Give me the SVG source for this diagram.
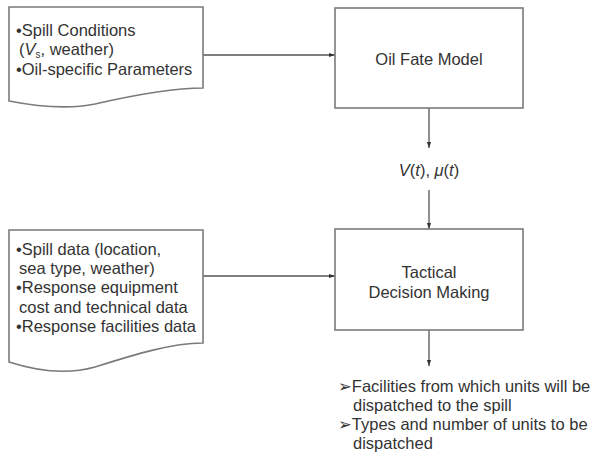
<svg xmlns="http://www.w3.org/2000/svg" width="594" height="452" viewBox="0 0 594 452">
<defs>
<style>
.shape{fill:#fff;stroke:#7a7a7a;stroke-width:1.6}
.conn{fill:none;stroke:#555;stroke-width:1.3}
text{font-family:"Liberation Sans","DejaVu Sans",Arial,sans-serif;font-size:16.5px;fill:#333}
.c{text-anchor:middle}
</style>
<marker id="ah" viewBox="0 0 10 10" refX="10" refY="5" markerWidth="6" markerHeight="6" orient="auto" markerUnits="userSpaceOnUse">
<path d="M0,1.5 L10,5 L0,8.5 Z" fill="#333"/>
</marker>
</defs>
<rect width="594" height="452" fill="#fff"/>
<g id="connectors">
<line class="conn" x1="203" y1="55" x2="335" y2="55" marker-end="url(#ah)"/>
<line class="conn" x1="429" y1="108" x2="429" y2="148" marker-end="url(#ah)"/>
<line class="conn" x1="429" y1="190" x2="429" y2="229" marker-end="url(#ah)"/>
<line class="conn" x1="203" y1="276" x2="335" y2="276" marker-end="url(#ah)"/>
<line class="conn" x1="429" y1="330" x2="429" y2="366" marker-end="url(#ah)"/>
</g>
<g id="inputs1">
<path class="shape" d="M9,7 H203 V88 C170,88 130,96 95,104 C70,109 40,107 9,101 Z"/>
<text x="16" y="36">•Spill Conditions</text>
<text x="19" y="55">(<tspan font-style="italic">V</tspan><tspan font-size="10" dy="3">s</tspan><tspan dy="-3">, weather)</tspan></text>
<text x="16" y="75">•Oil-specific Parameters</text>
</g>
<g id="oilFateModel">
<rect class="shape" x="335" y="8" width="188" height="100"/>
<text class="c" x="429" y="65">Oil Fate Model</text>
</g>
<g id="vmu">
<text class="c" x="429" y="176"><tspan font-style="italic">V</tspan>(<tspan font-style="italic">t</tspan>), <tspan font-style="italic">μ</tspan>(<tspan font-style="italic">t</tspan>)</text>
</g>
<g id="inputs2">
<path class="shape" d="M9,230 H203 V343 C170,343 130,356 95,367 C70,374 40,372 9,362 Z"/>
<text x="16" y="255">•Spill data (location,</text>
<text x="19" y="274">sea type, weather)</text>
<text x="16" y="293">•Response equipment</text>
<text x="19" y="313">cost and technical data</text>
<text x="16" y="332">•Response facilities data</text>
</g>
<g id="tactical">
<rect class="shape" x="335" y="229" width="188" height="101"/>
<text class="c" x="429" y="278">Tactical</text>
<text class="c" x="429" y="298">Decision Making</text>
</g>
<g id="outputs">
<text x="338" y="392">➢Facilities from which units will be</text>
<text x="353" y="411">dispatched to the spill</text>
<text x="338" y="430">➢Types and number of units to be</text>
<text x="353" y="449">dispatched</text>
</g>
</svg>
